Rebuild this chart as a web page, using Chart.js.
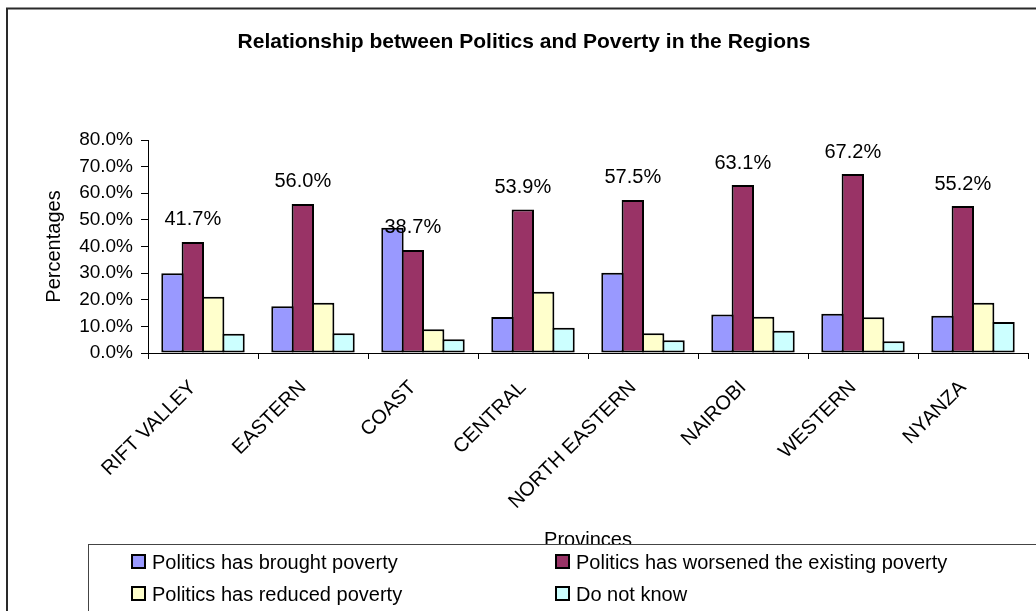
<!DOCTYPE html>
<html>
<head>
<meta charset="utf-8">
<script src="https://cdn.jsdelivr.net/npm/chart.js@4/dist/chart.umd.min.js"></script>
<style>
  html, body { margin: 0; padding: 0; background: #fff; }
  #wrap { width: 1036px; height: 611px; }
</style>
</head>
<body>
<div id="wrap"><canvas id="povertyChart" width="1036" height="611"></canvas></div>
<script>
// provinces and survey shares (percent of respondents)
const provinces = ["RIFT VALLEY", "EASTERN", "COAST", "CENTRAL", "NORTH EASTERN", "NAIROBI", "WESTERN", "NYANZA"];
const broughtPoverty = [30.0, 17.6, 47.0, 13.5, 30.1, 14.5, 14.7, 14.0];
const worsenedPoverty = [41.7, 56.0, 38.7, 53.9, 57.5, 63.1, 67.2, 55.2];
const reducedPoverty = [21.1, 18.9, 8.9, 23.0, 7.4, 13.6, 13.4, 18.9];
const doNotKnow = [7.2, 7.4, 5.2, 9.5, 4.8, 8.4, 4.4, 11.6];
const yTicks = [0, 10, 20, 30, 40, 50, 60, 70, 80];

const FONT = "'Liberation Sans', Arial, sans-serif";

// outer frame line (left and top edges)
const framePlugin = {
	id: "frame",
	beforeDraw(chart) {
		const ctx = chart.ctx;
		ctx.save();
		ctx.strokeStyle = "#2a2a2a";
		ctx.lineWidth = 2;
		ctx.beginPath();
		ctx.moveTo(7, 620);
		ctx.lineTo(7, 8.5);
		ctx.lineTo(1040, 8.5);
		ctx.stroke();
		ctx.restore();
	},
};

// value labels over the "worsened" bars
const valueLabels = {
	id: "valueLabels",
	afterDatasetsDraw(chart) {
		const ctx = chart.ctx;
		const meta = chart.getDatasetMeta(1);
		ctx.save();
		ctx.font = "20px " + FONT;
		ctx.fillStyle = "#000";
		ctx.textAlign = "center";
		ctx.textBaseline = "middle";
		meta.data.forEach(function (bar, i) {
			const v = chart.data.datasets[1].data[i];
			ctx.fillText(v.toFixed(1) + "%", bar.x, bar.y - 22);
		});
		ctx.restore();
	},
};

// boxed legend in two columns along the bottom
const boxLegend = {
	id: "boxLegend",
	afterDraw(chart) {
		const ctx = chart.ctx;
		const ds = chart.data.datasets;
		const cols = [132, 556];
		const rows = [562, 594];
		ctx.save();
		ctx.fillStyle = "#fff";
		ctx.fillRect(88, 544, 960, 80);
		ctx.strokeStyle = "#444";
		ctx.lineWidth = 1;
		ctx.strokeRect(88.5, 544.5, 960, 80);
		ctx.font = "20px " + FONT;
		ctx.textBaseline = "middle";
		ctx.textAlign = "left";
		ds.forEach(function (d, i) {
			const x = cols[i % 2];
			const y = rows[Math.floor(i / 2)];
			ctx.fillStyle = d.backgroundColor;
			ctx.fillRect(x, y - 7, 13, 13);
			ctx.strokeStyle = "#000";
			ctx.lineWidth = 2;
			ctx.strokeRect(x, y - 7, 13, 13);
			ctx.fillStyle = "#000";
			ctx.fillText(d.label, x + 20, y + 1);
		});
		ctx.restore();
	},
};

function series(label, data, color) {
	return {
		label: label,
		data: data,
		backgroundColor: color,
		borderColor: "#000",
		borderWidth: 2,
		borderSkipped: false,
		categoryPercentage: 0.74,
		barPercentage: 1.1,
	};
}

new Chart(document.getElementById("povertyChart"), {
	type: "bar",
	data: {
		labels: provinces,
		datasets: [
			series("Politics has brought poverty", broughtPoverty, "#9999FF"),
			series("Politics has worsened the existing poverty", worsenedPoverty, "#993366"),
			series("Politics has reduced poverty", reducedPoverty, "#FFFFCC"),
			series("Do not know", doNotKnow, "#CCFFFF"),
		],
	},
	options: {
		responsive: false,
		animation: false,
		layout: {
			padding: { left: 20, right: 8, top: 0, bottom: 51 },
		},
		plugins: {
			legend: { display: false },
			tooltip: { enabled: false },
			title: {
				display: true,
				text: "Relationship between Politics and Poverty in the Regions",
				color: "#000",
				font: { family: FONT, size: 21, weight: "bold" },
				padding: { top: 30, bottom: 84.8 },
			},
		},
		scales: {
			x: {
				grid: {
					display: true,
					drawOnChartArea: false,
					drawTicks: true,
					tickLength: 6,
					color: "#000",
				},
				border: { color: "#000", width: 1 },
				ticks: {
					autoSkip: false,
					maxRotation: 45,
					minRotation: 45,
					padding: 17,
					labelOffset: -10,
					color: "#000",
					font: { family: FONT, size: 20 },
				},
				title: {
					display: true,
					text: "Provinces",
					color: "#000",
					font: { family: FONT, size: 20 },
					padding: { top: 0, bottom: 8 },
				},
				afterFit(scale) {
					scale.height = 207;
				},
			},
			y: {
				min: 0,
				max: 80,
				afterBuildTicks(scale) {
					scale.ticks = yTicks.map(v => ({ value: v }));
				},
				grid: {
					display: true,
					drawOnChartArea: false,
					drawTicks: true,
					tickLength: 7,
					color: "#000",
				},
				border: { color: "#000", width: 1 },
				ticks: {
					padding: 8,
					color: "#000",
					font: { family: FONT, size: 19 },
					callback: v => v.toFixed(1) + "%",
				},
				title: {
					display: true,
					text: "Percentages",
					color: "#000",
					font: { family: FONT, size: 20 },
					padding: { top: 22, bottom: 4 },
				},
				afterFit(scale) {
					scale.width = 128;
				},
			},
		},
	},
	plugins: [framePlugin, valueLabels, boxLegend],
});
</script>
</body>
</html>
